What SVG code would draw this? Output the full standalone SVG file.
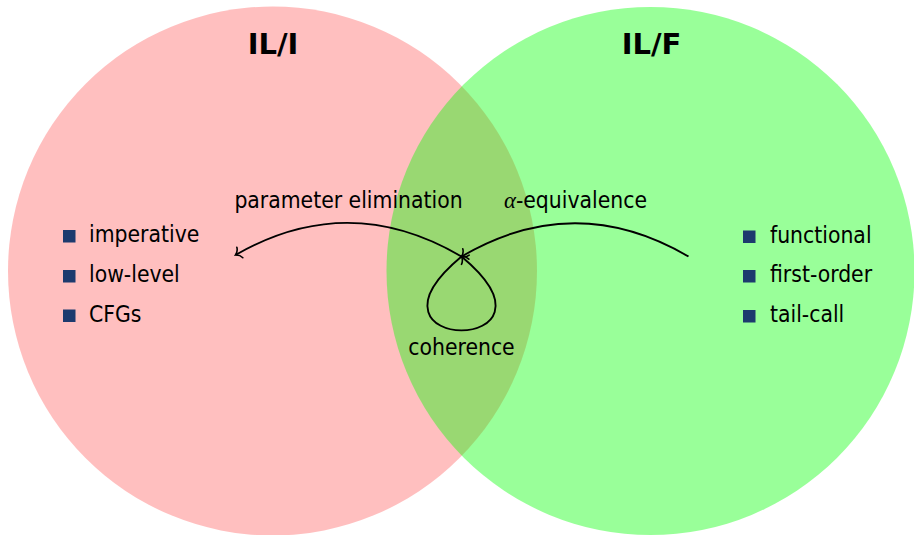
<svg xmlns="http://www.w3.org/2000/svg" width="914" height="535" viewBox="0 0 914 535">
  <defs>
    <marker id="to" markerUnits="userSpaceOnUse" markerWidth="20" markerHeight="20" refX="0" refY="0" viewBox="-10 -10 20 20" orient="auto">
      <path d="M-5,-6 C-4,-2 -1,-0.5 0,0 C-1,0.5 -4,2 -5,6" fill="none" stroke="#000" stroke-width="1.6" stroke-linecap="round"/>
    </marker>
  </defs>
  <style>
    .title { font-family: "DejaVu Sans", "Liberation Sans", sans-serif; font-weight: bold; font-size: 29px; fill: #000; text-anchor: middle; }
    .lbl { font-family: "DejaVu Sans Condensed", "DejaVu Sans", sans-serif; font-stretch: condensed; font-size: 22.7px; fill: #000; }
    .mid { text-anchor: middle; }
    .bullet { fill: #1d3a6e; }
    .edge { fill: none; stroke: #000; stroke-width: 1.9; marker-end: url(#to); }
    .math { font-family: "Liberation Serif", "DejaVu Serif", serif; font-style: italic; font-stretch: normal; }
  </style>
  <rect width="914" height="535" fill="#fff"/>
  <g id="IL-I">
    <circle cx="272.5" cy="271" r="264.5" fill="#ff0000" fill-opacity="0.25"/>
  </g>
  <g id="IL-F">
    <circle cx="650.5" cy="271" r="264" fill="#00ff00" fill-opacity="0.4"/>
  </g>
  <g id="IL-I-labels">
    <text class="title" x="273" y="54">IL/I</text>
    <rect class="bullet" x="63" y="230" width="12.5" height="12.5"/>
    <text class="lbl" x="89" y="242">imperative</text>
    <rect class="bullet" x="63" y="270" width="12.5" height="12.5"/>
    <text class="lbl" x="89" y="281.5">low-level</text>
    <rect class="bullet" x="63" y="309.5" width="12.5" height="12.5"/>
    <text class="lbl" x="89" y="321.5">CFGs</text>
  </g>
  <g id="IL-F-labels">
    <text class="title" x="651.5" y="54">IL/F</text>
    <rect class="bullet" x="743" y="230.5" width="12.5" height="12.5"/>
    <text class="lbl" x="770" y="242.5">functional</text>
    <rect class="bullet" x="743" y="270" width="12.5" height="12.5"/>
    <text class="lbl" x="770" y="282">first-order</text>
    <rect class="bullet" x="743" y="310" width="12.5" height="12.5"/>
    <text class="lbl" x="770" y="321.5">tail-call</text>
  </g>
  <g id="connectors">
    <path class="edge" d="M461.5,256.5 Q348.5,190 235.5,255"/>
    <path class="edge" d="M688.5,256.5 Q575,190 461.5,256.5"/>
    <path class="edge" d="M461.5,256.5 C343.5,355 579.5,355 461.5,256.5"/>
    <text class="lbl mid" x="348.5" y="208">parameter elimination</text>
    <text class="lbl mid" x="575.5" y="208"><tspan class="math">α</tspan>-equivalence</text>
    <text class="lbl mid" x="461.5" y="355">coherence</text>
  </g>
</svg>
